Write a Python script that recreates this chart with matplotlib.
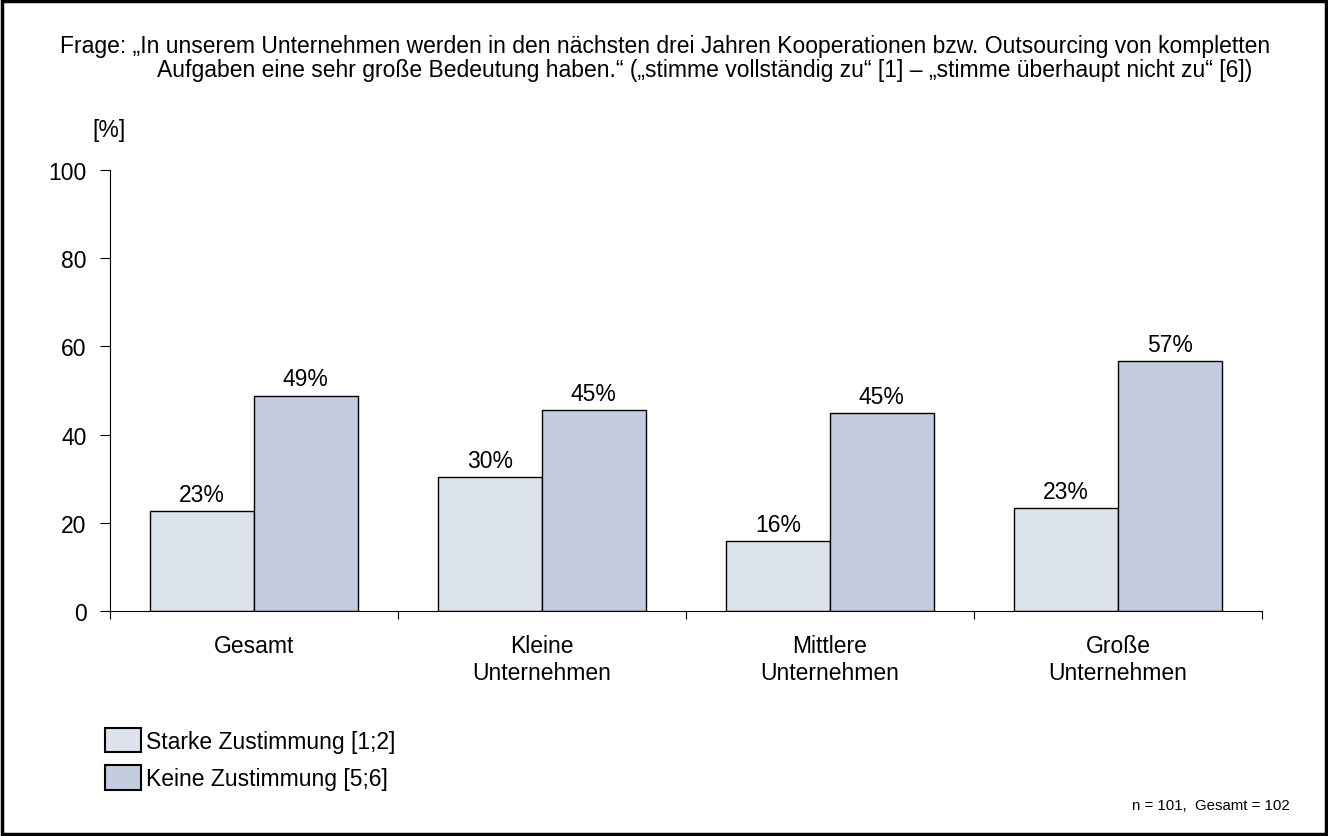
import matplotlib.pyplot as plt
from matplotlib.patches import Rectangle, Patch
import numpy as np

plt.rcParams['font.family'] = ['Liberation Sans', 'DejaVu Sans']

# data
categories = ['Gesamt', 'Kleine\nUnternehmen', 'Mittlere\nUnternehmen', 'Große\nUnternehmen']
starke = [22.7, 30.4, 15.8, 23.4]
keine = [48.8, 45.6, 44.9, 56.6]
starke_labels = ['23%', '30%', '16%', '23%']
keine_labels = ['49%', '45%', '45%', '57%']
series_names = ['Starke Zustimmung [1;2]', 'Keine Zustimmung [5;6]']
c_light = '#DCE3ED'
c_dark = '#C3CDDF'

W, H = 1328, 837
fs = 16.5
fig = plt.figure(figsize=(W / 100, H / 100), dpi=100)
fig.add_artist(Rectangle((2 / W, 2 / H), 1 - 4 / W, 1 - 4 / H, transform=fig.transFigure,
                         fill=False, edgecolor='black', linewidth=2.5))

ax = fig.add_axes([110 / W, (H - 612) / H, (1262 - 110) / W, (612 - 171) / H])
x = np.arange(len(categories))
bw = 0.36
ax.bar(x - bw / 2, starke, bw, color=c_light, edgecolor='black', linewidth=1)
ax.bar(x + bw / 2, keine, bw, color=c_dark, edgecolor='black', linewidth=1)
for i in range(len(categories)):
    ax.text(x[i] - bw / 2, starke[i] + 1.2, starke_labels[i], ha='center', va='bottom', fontsize=fs)
    ax.text(x[i] + bw / 2, keine[i] + 1.2, keine_labels[i], ha='center', va='bottom', fontsize=fs)

ax.set_xlim(-0.5, len(categories) - 0.5)
ax.set_ylim(0, 100)
ax.set_yticks([0, 20, 40, 60, 80, 100])
ax.tick_params(axis='y', direction='out', length=7, labelsize=fs, pad=10)
ax.set_xticks(np.arange(len(categories) + 1) - 0.5)
ax.set_xticklabels([])
ax.tick_params(axis='x', direction='out', length=6)
ax.spines['top'].set_visible(False)
ax.spines['right'].set_visible(False)
for i, c in enumerate(categories):
    ax.text(x[i], -5.3, c, ha='center', va='top', fontsize=fs, linespacing=1.2)

fig.text(665 / W, 1 - 47 / H,
         'Frage: „In unserem Unternehmen werden in den nächsten drei Jahren Kooperationen bzw. Outsourcing von kompletten',
         ha='center', va='center', fontsize=16.5)
fig.text(705 / W, 1 - 70 / H,
         'Aufgaben eine sehr große Bedeutung haben.“ („stimme vollständig zu“ [1] – „stimme überhaupt nicht zu“ [6])',
         ha='center', va='center', fontsize=16.5)
fig.text(109 / W, 1 - 131 / H, '[%]', ha='center', va='center', fontsize=fs)

handles = [Patch(facecolor=c_light, edgecolor='black', linewidth=1.5),
           Patch(facecolor=c_dark, edgecolor='black', linewidth=1.5)]
fig.legend(handles, series_names, loc='upper left', bbox_to_anchor=(89 / W, 1 - 713 / H),
           frameon=False, fontsize=fs, handlelength=1.55, handleheight=1.25,
           handletextpad=0.25, labelspacing=0.55, borderpad=0.2)

fig.text(1290 / W, 1 - 806 / H, 'n = 101,  Gesamt = 102', ha='right', va='center', fontsize=10.8)

fig.savefig('out.png', dpi=100)
